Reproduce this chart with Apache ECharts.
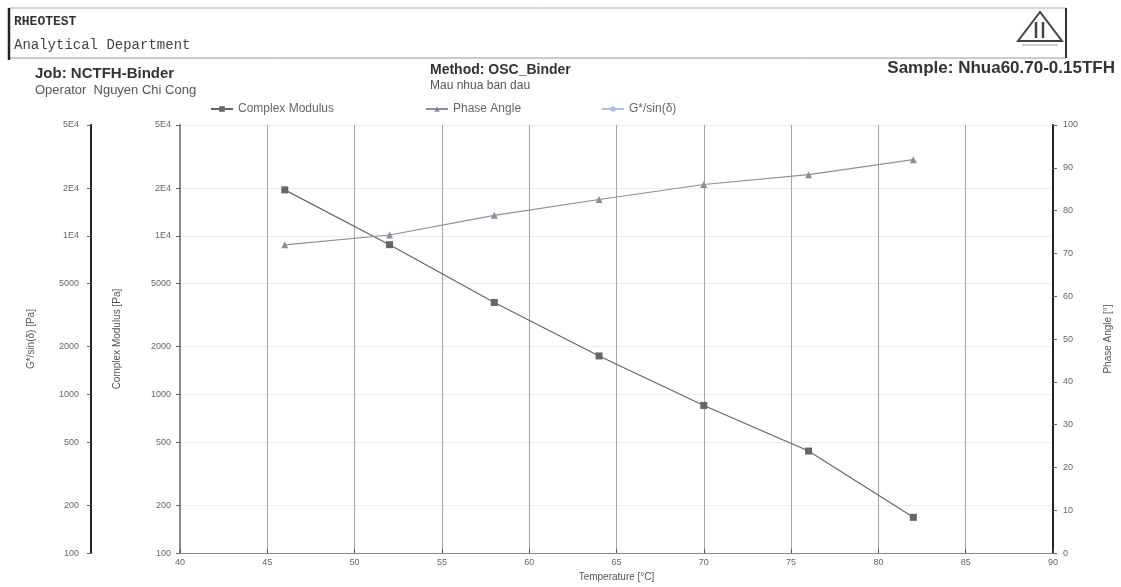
<!DOCTYPE html>
<html lang="en">
<head>
<meta charset="UTF-8">
<title>Rheotest</title>
<script src="https://cdn.jsdelivr.net/npm/echarts@6/dist/echarts.min.js"></script>
<style>
  html, body { margin: 0; padding: 0; background: #fff; }
  #container { width: 1121px; height: 587px; }
</style>
</head>
<body>
<div id="container"></div>
<script>
// temperature of each measurement [°C]
const temps = [46, 52, 58, 64, 70, 76, 82];
// complex modulus G* [Pa]
const complexModulus = [19500, 8800, 3800, 1750, 853, 440, 168];
// phase angle [°]
const phaseAngle = [72.0, 74.3, 78.9, 82.6, 86.1, 88.4, 91.9];
// G*/sin(delta): only in the legend, no points visible
const gSinDelta = [];

// log axis labels, as printed
const logTicks = [100, 200, 500, 1000, 2000, 5000, 10000, 20000, 50000];
const logTickLabels = ['100', '200', '500', '1000', '2000', '5000', '1E4', '2E4', '5E4'];

const pair = (xs, ys) => ys.map((y, i) => [xs[i], y]);
const logLabel = v => {
  const i = logTicks.findIndex(t => Math.abs(t - v) / t < 1e-6);
  return i >= 0 ? logTickLabels[i] : '';
};

const labelStyle = { color: '#666', fontSize: 9, fontFamily: 'Liberation Sans' };
const nameStyle = { color: '#555', fontSize: 10, fontFamily: 'Liberation Sans' };
const legendText = { color: '#666', fontSize: 12, fontFamily: 'Liberation Sans' };

const chart = echarts.init(document.getElementById('container'), null, { renderer: 'canvas' });

const option = {
  backgroundColor: '#fff',
  animation: false,
  grid: { left: 180, right: 68, top: 125, bottom: 30 },
  // one legend per entry, to place them like the print
  legend: [
    { top: 98, left: 205, itemWidth: 22, itemHeight: 7, textStyle: legendText, data: ['Complex Modulus'] },
    { top: 98, left: 420, itemWidth: 22, itemHeight: 7, textStyle: legendText, data: ['Phase Angle'] },
    { top: 98, left: 596, itemWidth: 22, itemHeight: 7, textStyle: legendText, data: ['G*/sin(δ)'] }
  ],
  graphic: [
    // header frame
    { type: 'line', shape: { x1: 9, y1: 8, x2: 1066, y2: 8 }, style: { stroke: '#aaa', lineWidth: 1 } },
    { type: 'line', shape: { x1: 9, y1: 58, x2: 1066, y2: 58 }, style: { stroke: '#999', lineWidth: 1 } },
    { type: 'line', shape: { x1: 9, y1: 8, x2: 9, y2: 60 }, style: { stroke: '#222', lineWidth: 2.5 } },
    { type: 'line', shape: { x1: 1066, y1: 8, x2: 1066, y2: 58 }, style: { stroke: '#333', lineWidth: 2 } },
    { type: 'text', left: 14, top: 15, style: { text: 'RHEOTEST', fill: '#333', font: 'bold 13px "Liberation Mono"' } },
    { type: 'text', left: 14, top: 38, style: { text: 'Analytical Department', fill: '#444', font: '14px "Liberation Mono"' } },
    // logo
    { type: 'polygon', shape: { points: [[1040, 12], [1018, 41], [1062, 41]] }, style: { fill: 'none', stroke: '#444', lineWidth: 2 } },
    { type: 'line', shape: { x1: 1036, y1: 22, x2: 1036, y2: 38 }, style: { stroke: '#444', lineWidth: 2.5 } },
    { type: 'line', shape: { x1: 1043, y1: 22, x2: 1043, y2: 38 }, style: { stroke: '#444', lineWidth: 2.5 } },
    { type: 'line', shape: { x1: 1022, y1: 45, x2: 1058, y2: 45 }, style: { stroke: '#999', lineWidth: 1 } },
    // job info
    { type: 'text', left: 35, top: 66, style: { text: 'Job: NCTFH-Binder', fill: '#333', font: 'bold 15px "Liberation Sans"' } },
    { type: 'text', left: 35, top: 84, style: { text: 'Operator  Nguyen Chi Cong', fill: '#555', font: '13px "Liberation Sans"' } },
    { type: 'text', left: 430, top: 63, style: { text: 'Method: OSC_Binder', fill: '#333', font: 'bold 14px "Liberation Sans"' } },
    { type: 'text', left: 430, top: 80, style: { text: 'Mau nhua ban dau', fill: '#555', font: '12px "Liberation Sans"' } },
    { type: 'text', right: 6, top: 60, style: { text: 'Sample: Nhua60.70-0.15TFH', fill: '#333', font: 'bold 17px "Liberation Sans"' } }
  ],
  xAxis: {
    type: 'value',
    min: 40,
    max: 90,
    interval: 5,
    name: 'Temperature [°C]',
    nameLocation: 'middle',
    nameGap: 17,
    nameTextStyle: nameStyle,
    axisLine: { lineStyle: { color: '#888', width: 1 } },
    axisTick: { show: true, inside: true, length: 4, lineStyle: { color: '#555' } },
    axisLabel: Object.assign({ margin: 5 }, labelStyle),
    splitLine: { show: true, lineStyle: { color: '#a5a5a5', width: 1 } }
  },
  yAxis: [
    {
      type: 'log',
      logBase: 10,
      min: 100,
      max: 50000,
      position: 'left',
      name: 'Complex Modulus [Pa]',
      nameLocation: 'middle',
      nameGap: 58,
      nameTextStyle: nameStyle,
      axisLine: { show: true, lineStyle: { color: '#888', width: 2 } },
      axisTick: { show: true, length: 4, customValues: logTicks, lineStyle: { color: '#666' } },
      axisLabel: Object.assign({ margin: 9, customValues: logTicks, formatter: logLabel }, labelStyle),
      splitLine: { show: true, lineStyle: { color: '#eee', width: 1 } }
    },
    {
      type: 'log',
      logBase: 10,
      min: 100,
      max: 50000,
      position: 'left',
      offset: 89,
      name: 'G*/sin(δ) [Pa]',
      nameLocation: 'middle',
      nameGap: 55,
      nameTextStyle: nameStyle,
      axisLine: { show: true, lineStyle: { color: '#222', width: 2 } },
      axisTick: { show: true, length: 4, customValues: logTicks, lineStyle: { color: '#666' } },
      axisLabel: Object.assign({ margin: 12, customValues: logTicks, formatter: logLabel }, labelStyle),
      splitLine: { show: false }
    },
    {
      type: 'value',
      min: 0,
      max: 100,
      interval: 10,
      position: 'right',
      name: 'Phase Angle [°]',
      nameLocation: 'middle',
      nameGap: 50,
      nameTextStyle: nameStyle,
      axisLine: { show: true, lineStyle: { color: '#222', width: 2 } },
      axisTick: { show: true, length: 4, lineStyle: { color: '#666' } },
      axisLabel: Object.assign({ margin: 10 }, labelStyle),
      splitLine: { show: false }
    }
  ],
  series: [
    {
      name: 'Complex Modulus',
      type: 'line',
      yAxisIndex: 0,
      data: pair(temps, complexModulus),
      symbol: 'rect',
      symbolSize: 7,
      itemStyle: { color: '#666' },
      lineStyle: { color: '#666', width: 1.2 }
    },
    {
      name: 'Phase Angle',
      type: 'line',
      yAxisIndex: 2,
      data: pair(temps, phaseAngle),
      symbol: 'triangle',
      symbolSize: 7,
      itemStyle: { color: '#8a8fa0' },
      lineStyle: { color: '#8a8fa0', width: 1.2 }
    },
    {
      name: 'G*/sin(δ)',
      type: 'line',
      yAxisIndex: 1,
      data: pair(temps, gSinDelta),
      symbol: 'none',
      itemStyle: { color: '#a9c4e6' },
      lineStyle: { color: '#a9c4e6', width: 1.5 }
    }
  ]
};

chart.setOption(option);
</script>
</body>
</html>
